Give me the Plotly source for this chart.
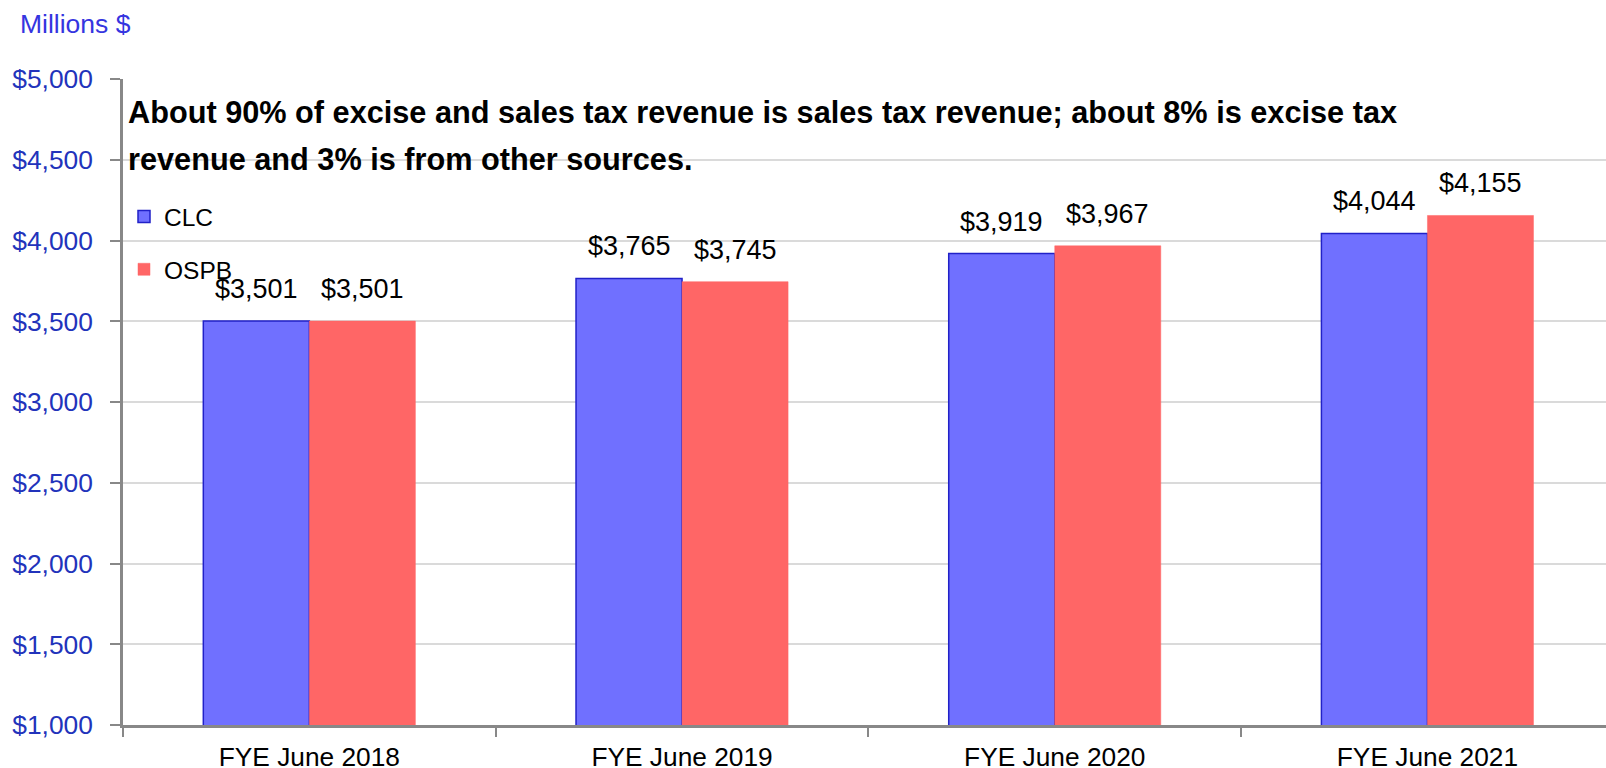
import plotly.graph_objects as go

# Revenue forecasts, millions of dollars
categories = ["FYE June 2018", "FYE June 2019", "FYE June 2020", "FYE June 2021"]
clc_values = [3501, 3765, 3919, 4044]
ospb_values = [3501, 3745, 3967, 4155]
y_tick_values = [1000, 1500, 2000, 2500, 3000, 3500, 4000, 4500, 5000]
y_tick_labels = ["$1,000", "$1,500", "$2,000", "$2,500", "$3,000",
                 "$3,500", "$4,000", "$4,500", "$5,000"]

FONT = "Liberation Sans, Arial, sans-serif"
CLC_FILL = "#7070FF"
CLC_EDGE = "#2121C8"
OSPB_FILL = "#FF6666"
AXIS = "#888888"
TICK_BLUE = "#2233BB"

W, H = 1606, 768
ML, MT, MB, MR = 123, 79, 43, 0
cat_px = 372.7  # width of one category slot
x_hi = -0.5 + (W - ML - MR) / cat_px

fig = go.Figure()
fig.add_trace(go.Bar(
    x=categories, y=clc_values, name="CLC", legendgroup="clc",
    marker=dict(color=CLC_FILL, line=dict(color=CLC_EDGE, width=1.5)),
))
fig.add_trace(go.Bar(
    x=categories, y=ospb_values, name="OSPB", legendgroup="ospb",
    marker=dict(color=OSPB_FILL, line=dict(color=OSPB_FILL, width=0.5)),
))

# value labels above each bar
offsets = {0: -53, 1: 53}
annotations = []
for si, vals in enumerate([clc_values, ospb_values]):
    for c, v in zip(categories, vals):
        annotations.append(dict(
            x=c, y=v, xref="x", yref="y", xshift=offsets[si], yshift=15,
            text=f"${v:,}", showarrow=False, yanchor="bottom",
            font=dict(family=FONT, size=27, color="#000000"),
        ))

headline = ["About 90% of excise and sales tax revenue is sales tax revenue; about 8% is excise tax",
            "revenue and 3% is from other sources."]
for i, line in enumerate(headline):
    annotations.append(dict(
        x=(126 - ML) / (W - ML - MR), y=1 - (113 + 46 * i - MT) / (H - MT - MB),
        xref="paper", yref="paper", xanchor="left", yanchor="middle",
        text=f"<b>{line}</b>", showarrow=False,
        font=dict(family=FONT, size=30.7, color="#000000"),
    ))

fig.update_layout(
    width=W, height=H,
    margin=dict(l=ML, r=MR, t=MT, b=MB, pad=0),
    paper_bgcolor="white", plot_bgcolor="white",
    barmode="group", bargap=0.431, bargroupgap=0,
    title=dict(text="Millions $", x=20 / W, xref="container", xanchor="left",
               y=1 - 24 / H, yref="container", yanchor="middle",
               font=dict(family=FONT, size=26.5, color="#3535E0")),
    legend=dict(x=(124 - ML) / (W - ML - MR), y=1 - (194 - MT) / (H - MT - MB),
                xanchor="left", yanchor="top", traceorder="grouped",
                tracegroupgap=18, bgcolor="rgba(0,0,0,0)",
                font=dict(family=FONT, size=24.5, color="#000000")),
    annotations=annotations,
    xaxis=dict(type="category", range=[-0.5, x_hi], showgrid=False,
               showline=True, linecolor=AXIS, linewidth=2.5, automargin=False,
               ticks="outside", tickson="boundaries", ticklen=9,
               tickcolor=AXIS, tickwidth=1.5, ticklabelstandoff=7,
               tickfont=dict(family=FONT, size=26.3, color="#000000")),
    yaxis=dict(range=[1000, 5000], tickvals=y_tick_values, ticktext=y_tick_labels,
               showgrid=True, gridcolor="#DADADA", gridwidth=2, automargin=False,
               showline=True, linecolor=AXIS, linewidth=2.5, zeroline=False,
               ticks="outside", ticklen=10, tickcolor=AXIS, tickwidth=2,
               ticklabelstandoff=12,
               tickfont=dict(family=FONT, size=26.4, color=TICK_BLUE)),
)

fig.write_html("out.html")
